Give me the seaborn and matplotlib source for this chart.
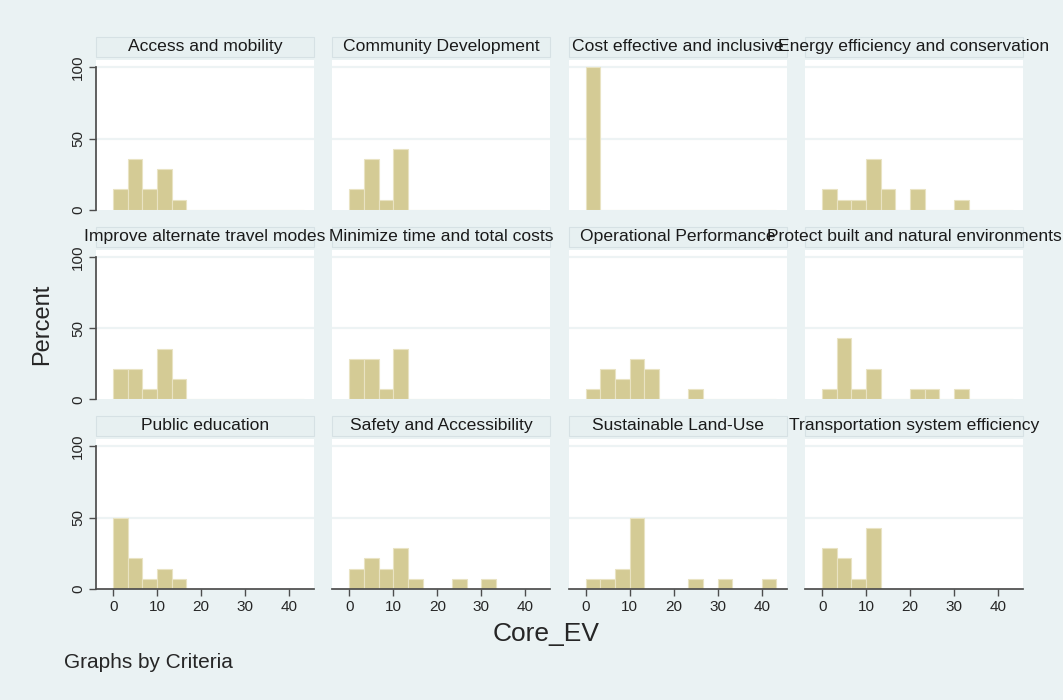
import numpy as np
import pandas as pd
import matplotlib
matplotlib.use("Agg")
import matplotlib.pyplot as plt
import seaborn as sns
from matplotlib.patches import Rectangle

# Criteria panels (in display order)
criteria = [
    "Access and mobility", "Community Development", "Cost effective and inclusive",
    "Energy efficiency and conservation", "Improve alternate travel modes",
    "Minimize time and total costs", "Operational Performance",
    "Protect built and natural environments", "Public education",
    "Safety and Accessibility", "Sustainable Land-Use", "Transportation system efficiency",
]

# Percent per bin (bins of width 10/3 starting at 0)
pct_access = [14.3, 35.7, 14.3, 28.6, 7.1]
pct_community = [14.3, 35.7, 7.1, 42.9]
pct_cost = [100]
pct_energy = [14.3, 7.1, 7.1, 35.7, 14.3, 0, 14.3, 0, 0, 7.1]
pct_alternate = [21.4, 21.4, 7.1, 35.7, 14.3]
pct_minimize = [28.6, 28.6, 7.1, 35.7]
pct_operational = [7.1, 21.4, 14.3, 28.6, 21.4, 0, 0, 7.1]
pct_protect = [7.1, 42.9, 7.1, 21.4, 0, 0, 7.1, 7.1, 0, 7.1]
pct_education = [50, 21.4, 7.1, 14.3, 7.1]
pct_safety = [14.3, 21.4, 14.3, 28.6, 7.1, 0, 0, 7.1, 0, 7.1]
pct_landuse = [7.1, 7.1, 14.3, 50, 0, 0, 0, 7.1, 0, 7.1, 0, 0, 7.1]
pct_transport = [28.6, 21.4, 7.1, 42.9]

all_pct = [pct_access, pct_community, pct_cost, pct_energy, pct_alternate,
           pct_minimize, pct_operational, pct_protect, pct_education,
           pct_safety, pct_landuse, pct_transport]

y_ticks = [0, 50, 100]
x_ticks = [0, 10, 20, 30, 40]

# Bin edges / centres
bin_width = 10 / 3
n_bins = 13
centers = (np.arange(n_bins) + 0.5) * bin_width

# Long table for plotting
rows = []
for name, pct in zip(criteria, all_pct):
    for c, p in zip(centers, pct):
        rows.append({"Criteria": name, "Core_EV": float(c), "Percent": float(p)})
df = pd.DataFrame(rows)

sns.set_theme(style="white")
plt.rcParams["font.family"] = ["Liberation Sans", "DejaVu Sans"]

bg = "#eaf2f3"
bar_color = "#d4cb95"
axis_color = "#4d4d4d"

fig, axes = plt.subplots(3, 4, figsize=(10.63, 7), dpi=100, sharex=True, sharey=True)
fig.patch.set_facecolor(bg)
fig.subplots_adjust(left=0.0903, right=0.9624, bottom=0.1586, top=0.914,
                    wspace=0.084, hspace=0.267)

for i, name in enumerate(criteria):
    r, c = divmod(i, 4)
    ax = axes[r, c]
    ax.set_facecolor("white")
    sub = df[df["Criteria"] == name]
    sns.histplot(data=sub, x="Core_EV", weights="Percent",
                 binwidth=bin_width, binrange=(0, n_bins * bin_width),
                 color=bar_color, edgecolor="#e9e3c3", linewidth=0.8,
                 alpha=1, ax=ax)
    for y in (50, 100):
        ax.axhline(y, color="#edf3f4", lw=1.6, zorder=0.5)
    ax.set_xlim(-3.9, 45.7)
    ax.set_ylim(0, 105)
    ax.set_xlabel("")
    ax.set_ylabel("")
    ax.set_yticks(y_ticks)
    ax.set_xticks(x_ticks)

    for s in ax.spines.values():
        s.set_visible(False)
    if c == 0:
        ax.spines["left"].set_visible(True)
        ax.spines["left"].set_color(axis_color)
        ax.spines["left"].set_bounds(0, 100)
    if r == 2:
        ax.spines["bottom"].set_visible(True)
        ax.spines["bottom"].set_color(axis_color)

    ax.tick_params(axis="y", left=(c == 0), labelleft=(c == 0), length=5,
                   width=1, color=axis_color, labelsize=11, direction="out", pad=3)
    ax.tick_params(axis="x", bottom=(r == 2), labelbottom=(r == 2), length=5,
                   width=1, color=axis_color, labelsize=11, direction="out", pad=3)
    if c == 0:
        for lab in ax.get_yticklabels():
            lab.set_rotation(90)
            lab.set_va("center")

    # title strip
    ax.add_patch(Rectangle((0, 1.02), 1, 0.133, transform=ax.transAxes,
                           facecolor="#e7f0f1", edgecolor="#d6e1e4", lw=0.8,
                           clip_on=False))
    ax.text(0.5, 1.092, name, transform=ax.transAxes, ha="center", va="center",
            fontsize=12.6, color="#1a1a1a")

fig.text(0.040, 0.536, "Percent", rotation=90, ha="center", va="center", fontsize=17)
fig.text(0.514, 0.094, "Core_EV", ha="center", va="center", fontsize=19)
fig.text(0.060, 0.054, "Graphs by Criteria", ha="left", va="center", fontsize=15)

fig.savefig("out.png", dpi=100, facecolor=fig.get_facecolor())
